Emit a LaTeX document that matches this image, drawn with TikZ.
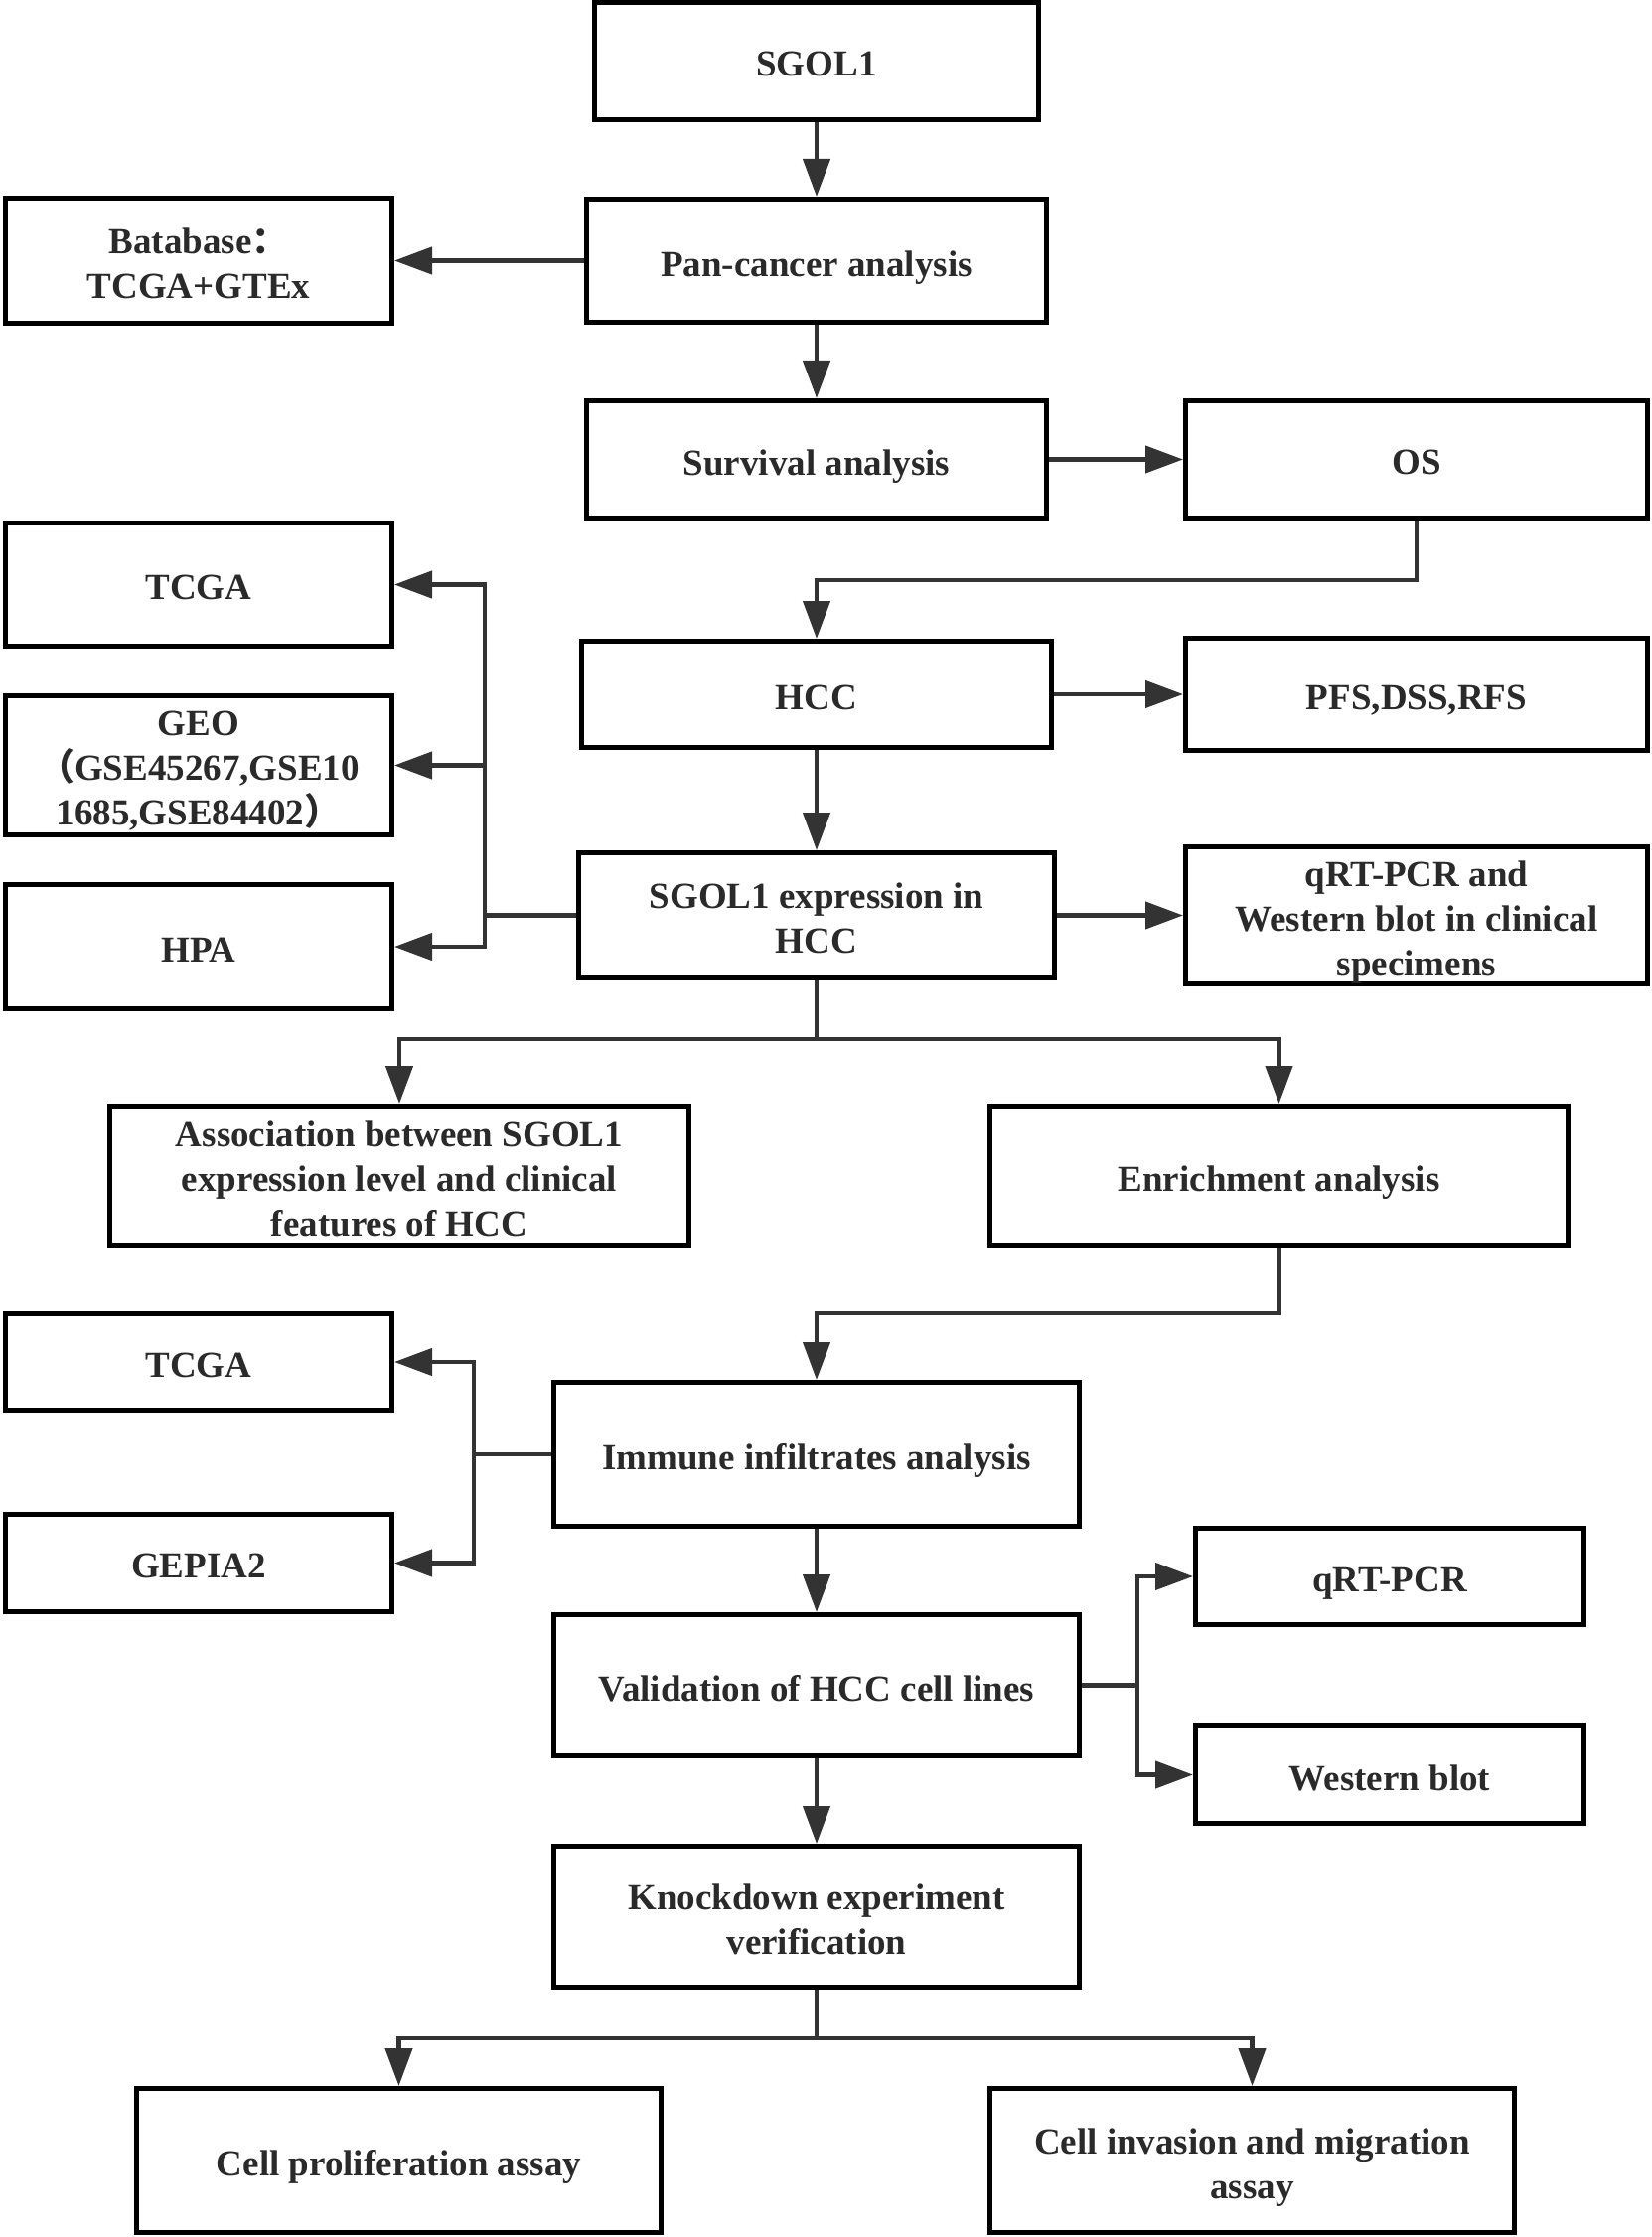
\documentclass[tikz,border=0pt]{standalone}
\usepackage{fontspec}
\setmainfont{Liberation Serif}
\newfontfamily\cjk{Noto Sans CJK SC}
\usetikzlibrary{arrows.meta}
\definecolor{ln}{HTML}{333333}
\definecolor{tx}{HTML}{2A2A2A}
\newcommand\mybox[6]{\node[box,minimum width={(#4-#2)*0.5pt-2.5pt},minimum height={(#5-#3)*0.5pt-2.5pt}] (#1) at ({(#2+#4)/2},{(#3+#5)/2}) {};
\node[txt] (#1t) at ([yshift=-1.4pt]#1.center) {#6};}
\begin{document}
\begin{tikzpicture}[x=0.5pt,y=-0.5pt,
 box/.style={draw=black,line width=2.5pt,inner sep=0pt},
 txt/.style={align=center,text=tx,inner sep=0pt,text depth=0pt,font=\fontsize{18.5}{22.5}\selectfont\bfseries},
 conn/.style={draw=ln,line width=2.2pt},
 arr/.style={conn,-{Triangle[length=19pt,width=13.5pt]}}]
\useasboundingbox (0,0) rectangle (1663,2252);
\fill[white] (0,0) rectangle (1663,2252);

\mybox{sgol}{596}{0}{1048}{123}{SGOL1}
\mybox{pan}{588}{198}{1056}{327}{Pan-cancer analysis}
\mybox{bat}{3}{197}{397}{328}{Batabase{\cjk ：}\\TCGA+GTEx}
\mybox{surv}{588}{401}{1056}{524}{Survival analysis}
\mybox{os}{1191}{401}{1661}{524}{OS}
\mybox{tcgaa}{3}{524}{397}{653}{TCGA}
\mybox{hcc}{583}{643}{1061}{755}{HCC}
\mybox{pfs}{1191}{640}{1661}{758}{PFS,DSS,RFS}
\mybox{geo}{3}{698}{397}{843}{GEO\\{\cjk （}GSE45267,GSE10\\1685,GSE84402{\cjk ）}}
\mybox{expr}{580}{856}{1064}{987}{SGOL1 expression in\\HCC}
\mybox{qrta}{1191}{850}{1661}{993}{qRT-PCR and\\Western blot in clinical\\specimens}
\mybox{hpa}{3}{888}{397}{1018}{HPA}
\mybox{assoc}{108}{1111}{696}{1256}{Association between SGOL1\\expression level and clinical\\features of HCC}
\mybox{enrich}{994}{1111}{1581}{1256}{Enrichment analysis}
\mybox{tcgab}{3}{1320}{397}{1422}{TCGA}
\mybox{imm}{555}{1389}{1089}{1539}{Immune infiltrates analysis}
\mybox{gepia}{3}{1522}{397}{1625}{GEPIA2}
\mybox{qrt}{1201}{1536}{1597}{1638}{qRT-PCR}
\mybox{val}{555}{1623}{1089}{1770}{Validation of HCC cell lines}
\mybox{wb}{1201}{1735}{1597}{1838}{Western blot}
\mybox{kd}{555}{1856}{1089}{2003}{Knockdown experiment\\verification}
\mybox{prol}{135}{2100}{668}{2250}{Cell proliferation assay}
\mybox{inv}{994}{2100}{1527}{2250}{Cell invasion and migration\\assay}

\coordinate (j1) at (822,584);
\coordinate (lb) at (488,921.5);
\coordinate (b1) at (822,1046);
\coordinate (j2) at (822,1322);
\coordinate (lb2) at (477,1464);
\coordinate (rb) at (1145,1696.5);
\coordinate (b2) at (822,2052);

\draw[arr] (sgol.south) -- (pan.north);
\draw[arr] (pan.west) -- (bat.east);
\draw[arr] (pan.south) -- (surv.north);
\draw[arr] (surv.east) -- (os.west);
\draw[arr] (os.south) |- (j1) -- (hcc.north);
\draw[arr] (hcc.east) -- (pfs.west);
\draw[arr] (hcc.south) -- (expr.north);
\draw[conn] (expr.west) -- (lb);
\draw[arr] (lb) |- (tcgaa.east);
\draw[arr] (lb) |- (geo.east);
\draw[arr] (lb) |- (hpa.east);
\draw[arr] (expr.east) -- (qrta.west);
\draw[conn] (expr.south) -- (b1);
\draw[arr] (b1) -| (assoc.north);
\draw[arr] (b1) -| (enrich.north);
\draw[arr] (enrich.south) |- (j2) -- (imm.north);
\draw[conn] (imm.west) -- (lb2);
\draw[arr] (lb2) |- (tcgab.east);
\draw[arr] (lb2) |- (gepia.east);
\draw[arr] (imm.south) -- (val.north);
\draw[conn] (val.east) -- (rb);
\draw[arr] (rb) |- (qrt.west);
\draw[arr] (rb) |- (wb.west);
\draw[arr] (val.south) -- (kd.north);
\draw[conn] (kd.south) -- (b2);
\draw[arr] (b2) -| (prol.north);
\draw[arr] (b2) -| (inv.north);
\end{tikzpicture}
\end{document}
